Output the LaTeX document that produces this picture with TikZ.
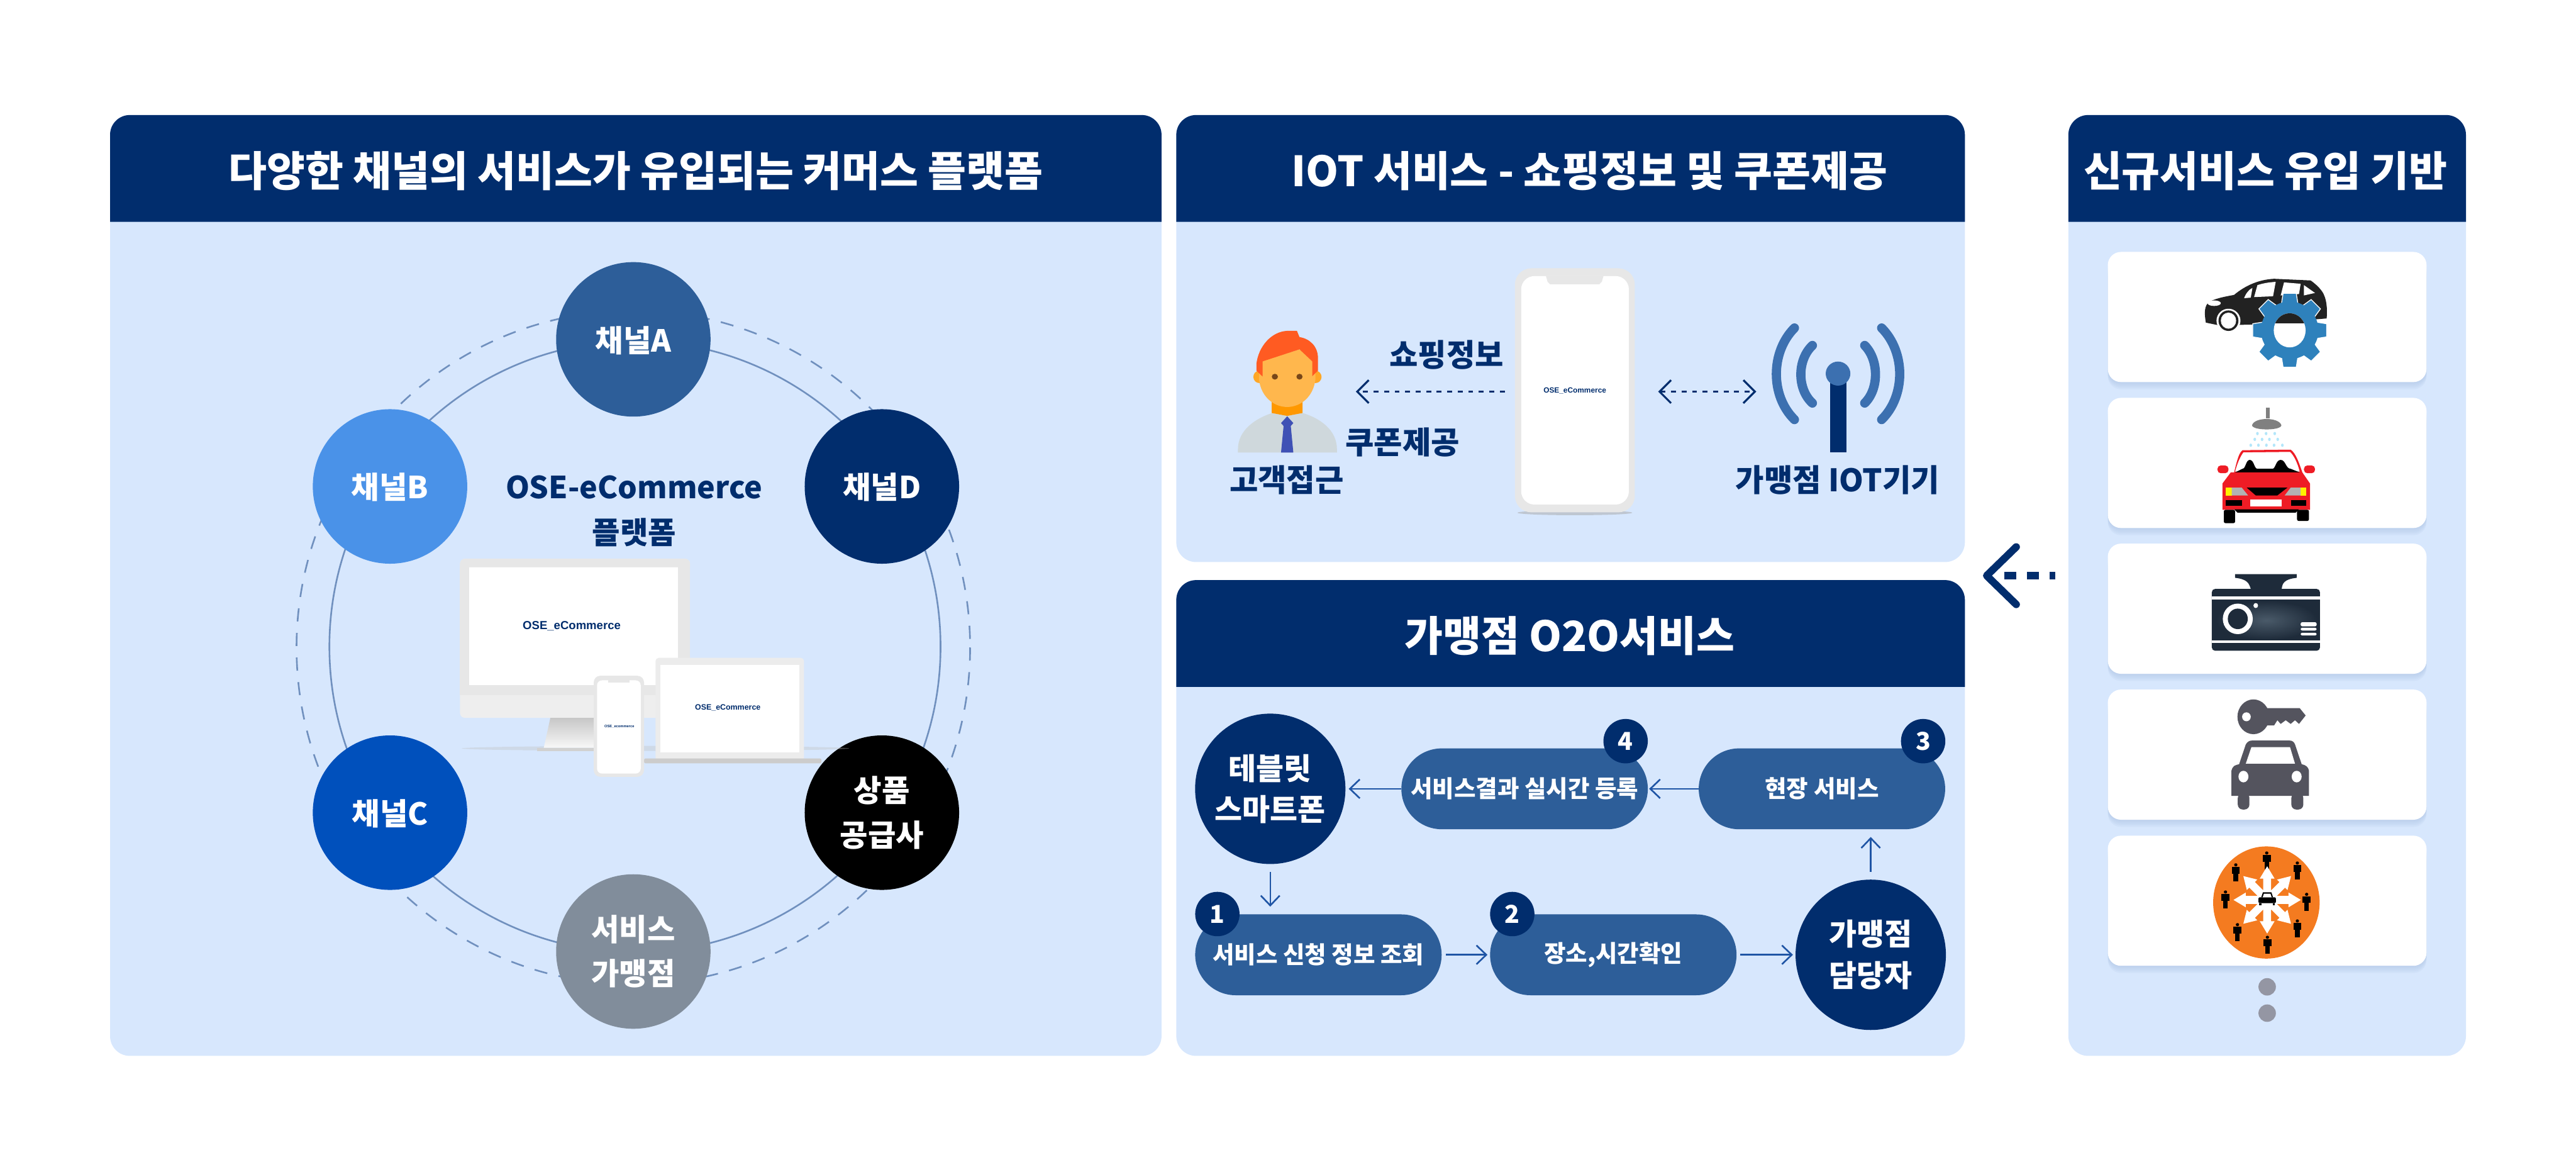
\documentclass[tikz,border=0pt]{standalone}
\usepackage{fontspec}
\usepackage{xcolor}
\usetikzlibrary{arrows.meta}
\setmainfont{Noto Sans CJK KR}
\newfontfamily\osefont{Liberation Sans}

\definecolor{panelblue}{HTML}{D7E7FD}
\definecolor{headblue}{HTML}{012D6D}
\definecolor{pillblue}{HTML}{2D5E99}
\definecolor{chanbcol}{HTML}{4A92E8}
\definecolor{chanccol}{HTML}{0050BC}
\definecolor{chanscol}{HTML}{818D9B}
\definecolor{ringblue}{HTML}{7090BE}
\definecolor{flowblue}{HTML}{1F55A5}
\definecolor{cardshadow}{HTML}{A9C0E3}
\definecolor{devgray}{HTML}{E7E7E7}
\definecolor{towerblue}{HTML}{3C70B0}
\definecolor{gearblue}{HTML}{2E81BC}
\definecolor{carblack}{HTML}{222222}
\definecolor{keygray}{HTML}{54545E}
\definecolor{carred}{HTML}{EE1C25}
\definecolor{camdark}{HTML}{1E2B3A}
\definecolor{camlight}{HTML}{4A5A69}
\definecolor{orangedisc}{HTML}{F47B20}
\definecolor{dotgray}{HTML}{9496A3}
\definecolor{shirtgray}{HTML}{CFD8DC}
\definecolor{neckorange}{HTML}{FF9800}
\definecolor{earorange}{HTML}{FFA726}
\definecolor{faceorange}{HTML}{FFB74D}
\definecolor{hairred}{HTML}{FF5B22}
\definecolor{eyebrown}{HTML}{784719}
\definecolor{tieblue}{HTML}{3F51B5}

\tikzset{
  headtitle/.style={text=white,font=\fontsize{25.35}{30}\selectfont\bfseries},
  chancircle/.style={circle,minimum size=94pt,inner sep=0pt,text=white,align=center,
    font=\fontsize{18.5}{27}\selectfont\bfseries},
  chanone/.style={chancircle,text height=15pt,text depth=0pt},
  flowcircle/.style={circle,fill=headblue,minimum size=91.5pt,inner sep=0pt,text=white,align=center,
    font=\fontsize{18.3}{25}\selectfont\bfseries},
  steppill/.style={rounded corners=24.6pt,fill=pillblue,minimum width=150pt,minimum height=49.2pt,
    inner sep=0pt,text=white,font=\fontsize{14.35}{16}\selectfont\bfseries},
  badge/.style={circle,fill=headblue,minimum size=27pt,inner sep=0pt,text=white,
    font=\fontsize{15}{16}\selectfont\bfseries},
  iotlabel/.style={text=headblue,font=\fontsize{18.9}{20}\selectfont\bfseries},
  flowarrow/.style={draw=flowblue,line width=1pt,-{Straight Barb[length=6pt,width=11.5pt]}},
  dotarrow/.style={draw=headblue,line width=1.2pt,dash pattern=on 3pt off 3.4pt,
    -{Straight Barb[length=7pt,width=14pt]}},
  dotboth/.style={dotarrow,{Straight Barb[length=7pt,width=14pt]}-{Straight Barb[length=7pt,width=14pt]}},
  card/.style={fill=white,rounded corners=8pt,minimum width=194pt,minimum height=79.2pt},
  osetext/.style={text=headblue,inner sep=0pt}
}

\begin{document}
\begin{tikzpicture}[x=1pt,y=-1pt]
  \useasboundingbox (0,0) rectangle (1568,713);

  % panels and their heads
  \foreach \xa/\ya/\xb/\yb/\yc in {67/70/707/642.5/135,716/70/1196/342/135,716/353/1196/642.5/418,1259/70/1501/642.5/135} {
    \fill[panelblue,rounded corners=12pt] (\xa,\ya) rectangle (\xb,\yb);
    \fill[headblue] (\xa,\yc) {[rounded corners=12pt] -- (\xa,\ya) -- (\xb,\ya)} -- (\xb,\yc) -- cycle;
  }
  \node[headtitle] (titlemain) at (387,104) {다양한 채널의 서비스가 유입되는 커머스 플랫폼};
  \node[headtitle] (titleiot) at (967.5,104) {IOT 서비스 - 쇼핑정보 및 쿠폰제공};
  \node[headtitle] (titleoto) at (955.5,387) {가맹점 O2O서비스};
  \node[headtitle] (titlenew) at (1379,104) {신규서비스 유입 기반};

  % rings round the platform
  \draw[ringblue,line width=1pt] (386.5,393.5) circle (186);
  \draw[ringblue,line width=1pt,dash pattern=on 8pt off 7pt] (385.5,394) circle (205);

  \node[chanone,fill=pillblue] (chana) at (385.5,206.5) {채널A};
  \node[chanone,fill=chanbcol] (chanb) at (237.4,296) {채널B};
  \node[chanone,fill=headblue] (chand) at (536.8,296) {채널D};
  \node[chanone,fill=chanccol] (chanc) at (237.4,494.5) {채널C};
  \node[chancircle,fill=black] (supplier) at (536.8,494.5) {상품\\공급사};
  \node[chancircle,fill=chanscol] (shop) at (385.5,579) {서비스\\가맹점};

  \node[text=headblue,font=\fontsize{18.5}{20}\selectfont\bfseries] (platname) at (386,296.5) {OSE-eCommerce};
  \node[text=headblue,font=\fontsize{18.5}{20}\selectfont\bfseries] (platsub) at (386,324) {플랫폼};

  % devices
  \fill[black!25,opacity=.35] (399,455.4) ellipse (118 and 1.5);
  \fill[devgray!70,rounded corners=3pt] (280,340) rectangle (420,436.8);
  \fill[devgray] (280,345) {[rounded corners=3pt] -- (280,340) -- (420,340)} -- (420,345) -- cycle;
  \fill[devgray] (280,345) rectangle (285.7,423);
  \fill[devgray] (412.8,345) rectangle (420,423);
  \fill[devgray] (280,417) rectangle (420,423);
  \fill[white] (285.7,345.4) rectangle (412.8,417);
  \shade[top color=black!22,bottom color=black!3] (335,436.8) -- (365,436.8) -- (365,455) -- (331,455) -- cycle;
  \fill[black!18] (327,455) rectangle (366,457);
  \node[osetext,font=\osefont\bfseries\fontsize{7.1}{9}\selectfont] (montext) at (348,381) {OSE\_eCommerce};
  \fill[devgray!80,rounded corners=2pt] (399,400.3) rectangle (489.4,463);
  \fill[white] (402,404.8) rectangle (486.6,457.7);
  \fill[black!20,rounded corners=1pt] (392,461.5) rectangle (500,464.5);
  \node[osetext,font=\osefont\bfseries\fontsize{4.75}{6}\selectfont] (laptext) at (443,430.5) {OSE\_eCommerce};
  \fill[devgray,rounded corners=4pt] (361.4,411.2) rectangle (392,472.7);
  \fill[white,rounded corners=3pt] (363.4,414) rectangle (390,470.7);
  \fill[devgray] (370,414) rectangle (383,415.5);
  \node[osetext,font=\osefont\bfseries\fontsize{2.2}{3}\selectfont] (phosmall) at (377,442) {OSE\_ecommerce};

  % phone and the two ends of the iot panel
  \fill[black!35,opacity=.5] (958.6,312) ellipse (35 and 1.5);
  \node[fill=devgray,rounded corners=10pt,minimum width=73pt,minimum height=148.5pt,inner sep=0pt] (phone) at (958.6,237.5) {};
  \node[fill=white,rounded corners=8pt,minimum width=65.5pt,minimum height=139pt,inner sep=0pt] (phonescreen) at (958.7,237.5) {};
  \fill[devgray] (941,168) -- (976,168) -- (975,171.5) -- (973.5,173) -- (943.5,173) -- (942,171.5) -- cycle;
  \node[osetext,font=\osefont\bfseries\fontsize{4.55}{6}\selectfont] (phonetext) at (958.6,237.6) {OSE\_eCommerce};

  \begin{scope}[shift={(714.5,148.2)},x=.3122pt,y=-.1181pt]
    % person
    \fill[shirtgray] (125,1077) -- (125,1060) .. controls (125,960) and (160,900) .. (192,873) -- (221,888) -- (251,873) .. controls (285,900) and (318,960) .. (318,1060) -- (318,1077) -- cycle;
    \fill[neckorange] (191,800) -- (251,800) -- (251,873) -- (221,888) -- (191,873) -- cycle;
    \fill[earorange] (167,687) ellipse (12 and 32);
    \fill[earorange] (276,687) ellipse (12 and 32);
    \fill[faceorange] (166,700) .. controls (170,790) and (195,842) .. (221,842) .. controls (247,842) and (272,790) .. (276,700) -- (276,600) -- (245,545) -- (166,610) -- cycle;
    \fill[hairred] (161,620) -- (161,655) -- (173,685) -- (173,607) -- (245,545) -- (270,607) -- (270,683) -- (281,655) -- (281,590) .. controls (281,530) and (265,490) .. (245,482) -- (240,450) -- (220,450) .. controls (190,455) and (165,530) .. (161,620) -- cycle;
    \fill[eyebrown] (197,686) ellipse (6 and 15);
    \fill[eyebrown] (245,686) ellipse (6 and 15);
    \fill[tieblue] (221,890) -- (233,925) -- (228,940) -- (233,1077) -- (209,1077) -- (214,940) -- (209,925) -- cycle;
    % tower
    \fill[headblue] (1279,700) rectangle (1311,1075);
    \fill[towerblue] (1295,670) ellipse (24 and 62);
    \foreach \sa/\sb/\ya/\yb/\yc/\yd in {1245/1215/525/600/750/822,1210/1163/435/560/785/907,1347/1375/525/600/750/822,1380/1427/435/560/785/907} {
      \draw[towerblue,line width=5.6pt,line cap=round] (\sa,\ya) .. controls (\sb,\yb) and (\sb,\yc) .. (\sa,\yd);
    }
  \end{scope}

  \node[iotlabel] (shopinfo) at (880.6,216) {쇼핑정보};
  \node[iotlabel] (coupon) at (853.7,269) {쿠폰제공};
  \node[iotlabel] (customer) at (783.2,292) {고객접근};
  \node[iotlabel] (iotdevice) at (1118.5,292) {가맹점 IOT기기};

  \coordinate (person) at (825.3,238.3);
  \coordinate (tower) at (1069,238.3);
  \draw[dotarrow,shorten <=6pt] (phone.west |- person) -- (person);
  \draw[dotboth,shorten <=14pt] (phone.east |- tower) -- (tower);

  % flow of the shop service
  \node[flowcircle] (tablet) at (773.2,480) {테블릿\\스마트폰};
  \node[flowcircle] (dealer) at (1138.7,581) {가맹점\\담당자};
  \node[steppill] (step1) at (802.5,581) {서비스 신청 정보 조회};
  \node[steppill] (step2) at (982,581) {장소,시간확인};
  \node[steppill] (step3) at (1109,480) {현장 서비스};
  \node[steppill] (step4) at (928,480) {서비스결과 실시간 등록};
  \node[badge] (num1) at (741,556.2) {1};
  \node[badge] (num2) at (920.5,556.2) {2};
  \node[badge] (num3) at (1170.6,451) {3};
  \node[badge] (num4) at (989.5,451) {4};

  \draw[flowarrow,shorten <=4.6pt,shorten >=4.5pt] (tablet.south) -- (tablet.south |- step1.north);
  \draw[flowarrow,shorten <=2.5pt,shorten >=1.4pt] (step1.east) -- (step2.west);
  \draw[flowarrow,shorten <=2pt,shorten >=1.4pt] (step2.east) -- (dealer.west);
  \draw[flowarrow,shorten <=4.6pt,shorten >=4.5pt] (dealer.north) -- (dealer.north |- step3.south);
  \draw[flowarrow,shorten >=.6pt] (step3.west) -- (step4.east);
  \draw[flowarrow,shorten >=1.8pt] (step4.west) -- (tablet.east);

  % big arrow into the middle panels
  \coordinate (bigstart) at (1251.2,350.3);
  \coordinate (bigend) at (1207,350.3);
  \draw[headblue,line width=4.5pt,dash pattern=on 3.5pt off 6.8pt on 7pt off 6.8pt on 7pt off 40pt,
    -{Straight Barb[length=18pt,width=35pt,line width=4.5pt,round]}] (bigstart) -- (bigend);

  % cards with icons
  \foreach \cy/\cname in {192.9/carda,281.7/cardb,370.4/cardc,459.2/cardd,548.1/carde} {
    \foreach \sh in {1,...,6} {
      \fill[cardshadow,opacity=.14,rounded corners=8pt] (1283,\cy-38+\sh) rectangle (1477,\cy+38+\sh);
    }
    \node[card] (\cname) at (1380,\cy) {};
  }
  \fill[dotgray] (1380,600.5) circle (5.3);
  \fill[dotgray] (1380,616.5) circle (5.3);

  \begin{scope}[shift={(1190.8,148.2)},x=.2025pt,y=-.1688pt]
    % car with gear
    \fill[carblack] (750,285) .. controls (745,250) and (745,225) .. (760,210) .. controls (785,195) and (815,190) .. (835,185) .. controls (870,150) and (910,130) .. (955,127) -- (1065,133) .. controls (1085,150) and (1100,170) .. (1105,185) .. controls (1115,210) and (1115,250) .. (1113,270) -- (890,292) -- (790,295) -- cycle;
    \fill[white] (895,193) -- (905,150) .. controls (925,142) and (940,140) .. (960,138) -- (952,190) -- cycle;
    \fill[white] (865,197) .. controls (870,180) and (880,165) .. (890,160) -- (885,195) -- cycle;
    \fill[white] (985,140) -- (1035,145) -- (1030,182) -- (975,187) -- cycle;
    \fill[white] (1045,150) -- (1078,178) -- (1045,187) -- cycle;
    \fill[white] (775,215) ellipse (20 and 10);
    \fill[white] (818,278) ellipse (36 and 43);
    \fill[carblack] (818,278) ellipse (30 and 37);
    \fill[white] (818,278) ellipse (23 and 29);
    % shower
    \fill[gray] (930,592) rectangle (942,630);
    \fill[gray] (889,655) .. controls (895,625) and (970,625) .. (977,655) .. controls (977,675) and (889,675) .. (889,655) -- cycle;
    \foreach \dx/\dy in {905/685,931/685,957/685,897/706,919/706,941/706,966/706,885/727,908/727,932/727,955/727,980/727} {
      \fill[cyan!30] (\dx,\dy) ellipse (4 and 6);
    }
    % red car
    \fill[carred] (835,825) .. controls (845,775) and (850,755) .. (860,745) -- (1005,743) .. controls (1020,755) and (1030,790) .. (1040,825) -- cycle;
    \fill[white] (838,822) .. controls (845,790) and (855,765) .. (863,753) -- (1003,751) .. controls (1015,765) and (1025,790) .. (1032,822) -- cycle;
    \fill[black] (838,825) -- (860,812) .. controls (870,812) and (870,780) .. (882,780) .. controls (895,780) and (895,812) .. (905,812) -- (950,812) .. controls (960,812) and (960,780) .. (975,780) .. controls (990,780) and (990,812) .. (1005,812) -- (1032,825) -- cycle;
    \fill[carred,rounded corners=2pt] (785,800) rectangle (818,828);
    \fill[carred,rounded corners=2pt] (1045,800) rectangle (1078,828);
    \fill[carred] (800,960) -- (800,865) -- (825,825) -- (1040,825) -- (1063,865) -- (1063,960) -- cycle;
    \fill[yellow] (810,880) rectangle (828,908);
    \fill[yellow] (1035,880) rectangle (1052,908);
    \fill[black!30] (828,880) -- (858,880) -- (877,908) -- (828,908) -- cycle;
    \fill[black!30] (1035,880) -- (1005,880) -- (987,908) -- (1035,908) -- cycle;
    \fill[black] (873,880) -- (995,880) -- (965,908) -- (900,908) -- cycle;
    \fill[black] (810,925) rectangle (858,945);
    \fill[black] (1007,925) rectangle (1052,945);
    \fill[white] (884,922) rectangle (978,948);
    \fill[black] (835,958) -- (1030,958) -- (1020,970) -- (845,970) -- cycle;
    \fill[black,rounded corners=1pt] (804,960) rectangle (838,1008);
    \fill[black,rounded corners=1pt] (1024,960) rectangle (1060,1000);
    % dash camera
    \fill[camdark] (838,1192) -- (1023,1192) -- (1023,1205) .. controls (985,1210) and (980,1225) .. (978,1245) -- (885,1245) .. controls (880,1225) and (875,1210) .. (838,1205) -- cycle;
    \fill[camdark,rounded corners=2pt] (768,1245) rectangle (1093,1468);
    \shade[inner color=camlight,outer color=camdark] (780,1288) rectangle (1085,1428);
    \fill[white] (768,1272) rectangle (1093,1284);
    \fill[white] (768,1430) rectangle (1093,1440);
    \fill[white] (846,1353) ellipse (45 and 55);
    \fill[camdark] (846,1353) ellipse (30 and 37);
    \fill[white] (900,1305) ellipse (7 and 9);
    \fill[white,rounded corners=1pt] (1035,1365) rectangle (1083,1380);
    \fill[white,rounded corners=1pt] (1035,1385) rectangle (1083,1395);
    \fill[white,rounded corners=1pt] (1035,1403) rectangle (1083,1413);
  \end{scope}

  % gear, drawn over the car
  \begin{scope}[shift={(1393.7,201)}]
    \foreach \ang in {0,45,...,315} {
      \fill[gearblue,rotate=\ang,draw=white,line width=.5pt] (-5.2,-15) -- (-4,-22.5) -- (4,-22.5) -- (5.2,-15) -- cycle;
    }
    \fill[gearblue] (0,0) circle (17.5);
    \fill[white] (0,0) ellipse (9.7 and 10.4);
    \begin{scope}
      \clip (0,0) ellipse (9.7 and 10.4);
      \fill[carblack] (-10,-11) rectangle (10,-4.2);
    \end{scope}
  \end{scope}

  \begin{scope}[shift={(1190.8,396.9)},x=.2025pt,y=-.1603pt]
    % key and car
    \fill[keygray] (893,245) ellipse (48 and 66);
    \fill[keygray] (930,212) -- (1032,212) -- (1050,240) -- (1030,272) -- (1018,258) -- (1005,272) -- (990,258) -- (975,272) -- (965,258) -- (955,278) -- (930,278) -- cycle;
    \fill[white] (872,245) ellipse (13 and 17);
    \fill[keygray] (827,545) -- (827,450) .. controls (830,430) and (840,428) .. (850,425) -- (870,350) .. controls (875,340) and (880,335) .. (890,335) -- (1000,335) .. controls (1010,335) and (1015,340) .. (1018,350) -- (1038,425) .. controls (1050,428) and (1058,435) .. (1060,450) -- (1060,545) -- cycle;
    \fill[keygray,rounded corners=3pt] (846,535) rectangle (881,597);
    \fill[keygray,rounded corners=3pt] (1007,535) rectangle (1043,597);
    \fill[white] (870,423) -- (887,360) -- (1003,360) -- (1018,423) -- cycle;
    \fill[white] (863,472) ellipse (15 and 22);
    \fill[white] (1023,472) ellipse (15 and 22);
    % orange disc with people
    \fill[orangedisc] (932,950) ellipse (160 and 213);
    \foreach \px/\py in {933/790,1025/828,1053/947,1025/1048,935/1110,845/1062,809/938,840/835} {
      \fill[black] (\px,\py-28) ellipse (5 and 6);
      \fill[black] (\px-12,\py-20) rectangle (\px+12,\py+5);
      \fill[black] (\px-7,\py+5) rectangle (\px+7,\py+34);
    }
  \end{scope}

  % arrows on the disc
  \begin{scope}[shift={(1380,547.6)}]
    \foreach \ang in {0,45,...,315} {
      \fill[white,rotate=\ang] (-2.4,0) -- (-2.4,-13) -- (-4.5,-13) -- (0,-20.5) -- (4.5,-13) -- (2.4,-13) -- (2.4,0) -- cycle;
    }
    \fill[white] (0,0) circle (6.5);
    \fill[black,rounded corners=.8pt] (-5.3,-1.6) rectangle (5.3,2);
    \fill[black] (-3.6,-1.6) -- (-2.6,-4.6) -- (2.6,-4.6) -- (3.6,-1.6) -- cycle;
    \fill[white] (-2.7,-1.6) -- (-2,-3.8) -- (2,-3.8) -- (2.7,-1.6) -- cycle;
    \fill[black] (-4.8,2) rectangle (-3.4,3.2);
    \fill[black] (3.4,2) rectangle (4.8,3.2);
  \end{scope}
\end{tikzpicture}
\end{document}
